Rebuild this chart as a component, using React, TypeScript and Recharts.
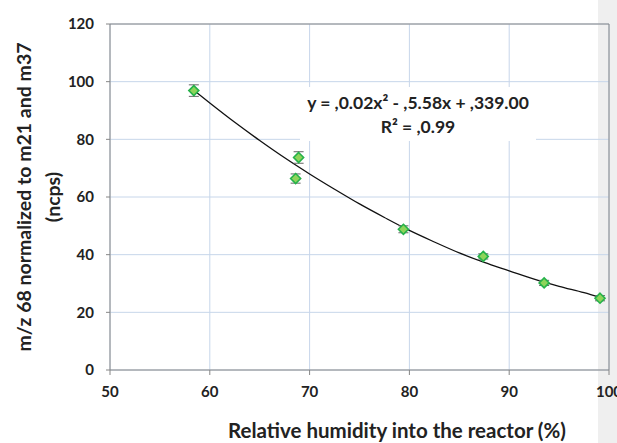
import {
  ComposedChart,
  Line,
  Scatter,
  ErrorBar,
  XAxis,
  YAxis,
  CartesianGrid,
  ReferenceLine,
} from "recharts";

// measured points (RH %, normalized signal, error)
const humidity = [58.4, 68.6, 68.9, 79.4, 87.4, 93.5, 99.1];
const signal = [96.9, 66.4, 73.7, 48.8, 39.4, 30.2, 24.9];
const errors = [2.0, 1.6, 2.0, 1.2, 0.9, 0.9, 0.9];

// polynomial trendline
const trendX = [58.4, 60, 62.5, 65, 67.5, 70, 72.5, 75, 77.5, 80, 82.5, 85, 87.5, 90, 92.5, 95, 97.5, 99.1];
const trendY = [97.0, 92.6, 85.9, 79.6, 73.6, 68.0, 62.7, 57.6, 52.9, 48.4, 44.4, 40.6, 37.3, 34.4, 31.5, 29.0, 26.8, 25.2];

const xTicks = [50, 60, 70, 80, 90, 100];
const yTicks = [0, 20, 40, 60, 80, 100, 120];

const points = humidity.map((x, i) => ({ x, y: signal[i], err: errors[i] }));
const trend = trendX.map((x, i) => ({ x, y: trendY[i] }));

const FONT = "Lato, 'Open Sans', sans-serif";
const TEXT = "#222";
const AXIS = "#868686";
const GRID = "#c7d6ea";

function Diamond(props: any) {
  const { cx, cy } = props;
  if (cx == null || cy == null) return null;
  const r = 5;
  return (
    <polygon
      points={`${cx},${cy - r} ${cx + r},${cy} ${cx},${cy + r} ${cx - r},${cy}`}
      fill="#8ed45a"
      stroke="#25b24a"
      strokeWidth={1.6}
    />
  );
}

function YLabel() {
  const cy = 197;
  return (
    <g fontFamily={FONT} fontWeight={700} fill={TEXT} fontSize={19.5}>
      <text x={23} y={cy} transform={`rotate(-90, 23, ${cy})`} textAnchor="middle" dominantBaseline="central">
        m/z 68 normalized to m21 and m37
      </text>
      <text x={52} y={cy} transform={`rotate(-90, 52, ${cy})`} textAnchor="middle" dominantBaseline="central">
        (ncps)
      </text>
    </g>
  );
}

function XLabel() {
  return (
    <text x={397} y={438} textAnchor="middle" fontFamily={FONT} fontWeight={700} fill={TEXT} fontSize={20.5}>
      Relative humidity into the reactor (%)
    </text>
  );
}

export default function App() {
  const tick = { fontSize: 15, fontWeight: 700, fill: TEXT, fontFamily: FONT };
  return (
    <div style={{ position: "absolute", left: 0, top: 0, width: 617, height: 443, background: "#fff", overflow: "hidden" }}>
      <div style={{ position: "absolute", left: 598, top: 0, width: 19, height: 443, background: "#efefef" }} />
      <div style={{ position: "absolute", left: 0, top: 0 }}>
        <ComposedChart width={617} height={443} margin={{ top: 24, right: 8, left: 0, bottom: 0 }}>
          <CartesianGrid stroke={GRID} strokeWidth={1} />
          <XAxis
            dataKey="x"
            type="number"
            domain={[50, 100]}
            ticks={xTicks}
            height={73}
            tickSize={5}
            tickMargin={11}
            tick={tick}
            axisLine={{ stroke: AXIS }}
            tickLine={{ stroke: AXIS }}
            interval={0}
            label={<XLabel />}
          />
          <YAxis
            type="number"
            domain={[0, 120]}
            ticks={yTicks}
            width={110}
            tickSize={4}
            tickMargin={12}
            tick={tick}
            axisLine={{ stroke: AXIS }}
            tickLine={{ stroke: AXIS }}
            interval={0}
            label={<YLabel />}
          />
          <ReferenceLine y={120} stroke={AXIS} />
          <ReferenceLine x={100} stroke={AXIS} />
          <Line
            data={trend}
            dataKey="y"
            type="monotone"
            stroke="#111"
            strokeWidth={1.3}
            dot={false}
            activeDot={false}
            isAnimationActive={false}
          />
          <Scatter data={points} dataKey="y" shape={<Diamond />} isAnimationActive={false}>
            <ErrorBar dataKey="err" direction="y" width={5} stroke="#666" strokeWidth={1} />
          </Scatter>
        </ComposedChart>
      </div>
      <svg width={236} height={54} style={{ position: "absolute", left: 300, top: 87 }}>
        <rect x={0} y={0} width={236} height={54} fill="#fff" />
        <g fontFamily={FONT} fontWeight={700} fill={TEXT} fontSize={17.5} textAnchor="middle">
          <text x={118} y={22}>y = ,0.02x² - ,5.58x + ,339.00</text>
          <text x={118} y={46}>R² = ,0.99</text>
        </g>
      </svg>
    </div>
  );
}
